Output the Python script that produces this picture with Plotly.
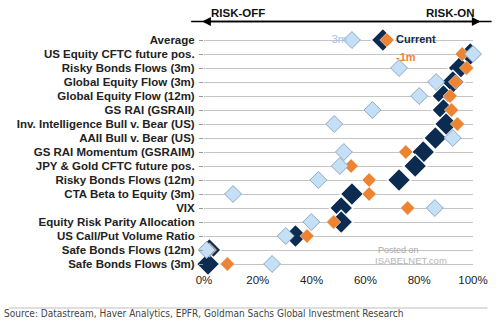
import plotly.graph_objects as go

categories = ["Average", "US Equity CFTC future pos.", "Risky Bonds Flows (3m)",
              "Global Equity Flow (3m)", "Global Equity Flow (12m)", "GS RAI (GSRAII)",
              "Inv. Intelligence Bull v. Bear (US)", "AAII Bull v. Bear (US)",
              "GS RAI Momentum (GSRAIM)", "JPY & Gold CFTC future pos.",
              "Risky Bonds Flows (12m)", "CTA Beta to Equity (3m)", "VIX",
              "Equity Risk Parity Allocation", "US Call/Put Volume Ratio",
              "Safe Bonds Flows (12m)", "Safe Bonds Flows (3m)"]
current = [66.5, 99, 95, 92.5, 89, 89, 90, 86, 81.5, 78.5, 72.5, 55, 51, 51, 34, 2, 1.5]
minus_1m = [68, 96, 97.6, 93.5, 91.5, 92, 94.2, 92, 75, 54.7, 61.4, 61.4, 75.7, 48.2, 38.3, 2, 8.7]
minus_3m = [55, 100, 72.5, 86.3, 80, 62.6, 48.4, 92.5, 52, 50.5, 42.5, 10.8, 85.8, 39.9, 30.4, 1, 25.3]
x_ticks = [0, 20, 40, 60, 80, 100]
x_tick_labels = ["0%", "20%", "40%", "60%", "80%", "100%"]

NAVY = "#0c2b50"
ORANGE = "#ec8431"
LIGHT = "#c5e0f6"

fig = go.Figure()
fig.add_trace(go.Scatter(x=current, y=categories, mode="markers", name="Current",
                         cliponaxis=False,
                         marker=dict(symbol="diamond", size=18, color=NAVY,
                                     line=dict(color="white", width=1.5))))
fig.add_trace(go.Scatter(x=minus_1m, y=categories, mode="markers", name="-1m",
                         cliponaxis=False,
                         marker=dict(symbol="diamond", size=11, color=ORANGE,
                                     line=dict(color="white", width=0.5))))
fig.add_trace(go.Scatter(x=minus_3m, y=categories, mode="markers", name="-3m",
                         cliponaxis=False,
                         marker=dict(symbol="diamond", size=13, color=LIGHT,
                                     line=dict(color="#8ea9c2", width=1))))

L, R, T, B = 204, 15, 33, 61
W, H = 500, 332
pw, ph = W - L - R, H - T - B


def px(xp):
    return (xp - L) / pw


def py(yp):
    return (H - B - yp) / ph


ann = []
ann.append(dict(x=px(493), y=py(21.5), xref="paper", yref="paper", text="",
                showarrow=True, arrowhead=2, arrowsize=1.1, arrowwidth=1.6,
                arrowcolor="black", ax=-(493 - 202), ay=0, axref="pixel", ayref="pixel"))
ann.append(dict(x=px(202), y=py(21.5), xref="paper", yref="paper", text="",
                showarrow=True, arrowhead=2, arrowsize=1.1, arrowwidth=1.6,
                arrowcolor="black", ax=(493 - 202), ay=0, axref="pixel", ayref="pixel"))
ann.append(dict(x=px(209), y=py(13), xref="paper", yref="paper", text="<b>RISK-OFF</b>",
                showarrow=False, xanchor="left", yanchor="middle",
                font=dict(family="Liberation Sans", size=11.5, color="#111")))
ann.append(dict(x=px(489), y=py(13), xref="paper", yref="paper", text="<b>RISK-ON</b>",
                showarrow=False, xanchor="right", yanchor="middle",
                font=dict(family="Liberation Sans", size=11.5, color="#111")))
ann.append(dict(x=px(343), y=py(31), xref="paper", yref="paper", text="-3m",
                showarrow=False, font=dict(family="Liberation Sans", size=11, color="#a3c5e4")))
ann.append(dict(x=px(402), y=py(31), xref="paper", yref="paper", text="<b>Current</b>",
                showarrow=False, xanchor="left",
                font=dict(family="Liberation Sans", size=11, color=NAVY)))
ann.append(dict(x=px(402), y=py(49), xref="paper", yref="paper", text="<b>-1m</b>",
                showarrow=False, xanchor="left",
                font=dict(family="Liberation Sans", size=11, color=ORANGE)))
ann.append(dict(x=px(431), y=py(257), xref="paper", yref="paper", text="Posted on",
                showarrow=False, font=dict(family="Liberation Sans", size=9, color="#a9a9a9")))
ann.append(dict(x=px(460), y=py(268), xref="paper", yref="paper", text="ISABELNET.com",
                showarrow=False, font=dict(family="Liberation Sans", size=9.5, color="#b5b5b5")))
ann.append(dict(x=0, y=py(321), xref="paper", yref="paper", xanchor="left",
                text="Source: Datastream, Haver Analytics, EPFR, Goldman Sachs Global Investment Research",
                showarrow=False, xshift=-L + 2,
                font=dict(family="DejaVu Sans Condensed, Liberation Sans",
                          size=10, color="#444")))

fig.update_layout(
    width=W, height=H, margin=dict(l=L, r=R, t=T, b=B),
    paper_bgcolor="white", plot_bgcolor="white", showlegend=False,
    annotations=ann,
    shapes=[dict(type="line", xref="paper", yref="paper", x0=px(0), x1=px(500),
                 y0=py(308), y1=py(308), line=dict(color="#bdbdbd", width=1.2))],
    xaxis=dict(range=[0, 100], tickvals=x_ticks, ticktext=x_tick_labels,
               showgrid=False, zeroline=False, showline=False, ticks="",
               ticklabelstandoff=0,
               tickfont=dict(family="Liberation Sans", size=11.5, color="#222")),
    yaxis=dict(categoryorder="array", categoryarray=categories, autorange=False,
               range=[len(categories) - 0.5, -0.5],
               showgrid=True, gridcolor="#c4c4c4", gridwidth=1, zeroline=False,
               ticks="outside", ticklen=4, tickcolor="#999", showline=False,
               tickfont=dict(family="Liberation Sans", size=11.5, color="#222", weight="bold"),
               ticklabelstandoff=2),
)
fig.write_html("out.html")
